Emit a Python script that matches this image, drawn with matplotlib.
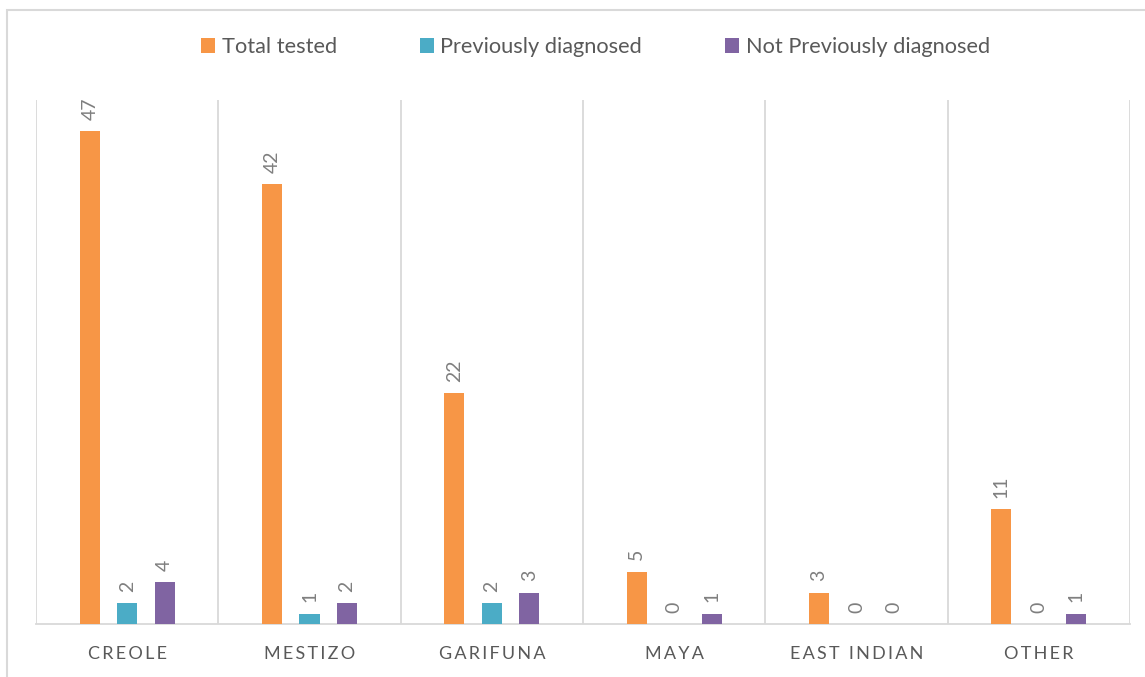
import matplotlib.pyplot as plt
import numpy as np
from matplotlib.patches import Rectangle

plt.rcParams['font.family'] = ['Lato', 'DejaVu Sans']

# dados
categorias = ["CREOLE", "MESTIZO", "GARIFUNA", "MAYA", "EAST INDIAN", "OTHER"]
total_tested = [47, 42, 22, 5, 3, 11]
prev_diag = [2, 1, 2, 0, 0, 0]
not_prev_diag = [4, 2, 3, 1, 0, 1]
series_names = ["Total tested", "Previously diagnosed", "Not Previously diagnosed"]
cores = ["#F79646", "#4BACC6", "#8064A2"]
cinza = "#595959"

fig = plt.figure(figsize=(11.45, 6.77), dpi=100)
ax = fig.add_axes([36/1145, 1 - 624/677, (1130-36)/1145, (624-100)/677])

x = np.arange(len(categorias))
largura = 0.11
passo = 0.205
for i, (vals, nome, cor) in enumerate(zip([total_tested, prev_diag, not_prev_diag], series_names, cores)):
    pos = x + (i - 1) * passo
    ax.bar(pos, vals, width=largura, color=cor, label=nome, zorder=3)
    for p, v in zip(pos, vals):
        ax.annotate(str(v), (p, v), xytext=(0, 8), textcoords='offset points',
                    rotation=90, ha='center', va='bottom', color='#7F7F7F', fontsize=14)

ax.set_xlim(-0.5, len(categorias) - 0.5)
ax.set_ylim(0, 50)
ax.set_yticks([])
for b in np.arange(-0.5, len(categorias), 1):
    ax.axvline(b, color='#D9D9D9', lw=1.3, zorder=1)
for s in ['top', 'left', 'right']:
    ax.spines[s].set_visible(False)
ax.spines['bottom'].set_color('#D9D9D9')
ax.spines['bottom'].set_linewidth(1.3)
ax.set_xticks(x)
ax.set_xticklabels(["\u2009".join(list(c)).replace("\u2009 \u2009", "  ") for c in categorias],
                   fontsize=13, color=cinza)
ax.tick_params(axis='x', length=0, pad=16)

leg = fig.legend(loc='center', bbox_to_anchor=(0.52, 1 - 47/677), ncol=3, frameon=False,
                 fontsize=15.7, handlelength=0.65, handleheight=0.65, handletextpad=0.3,
                 columnspacing=3.8)
for t in leg.get_texts():
    t.set_color(cinza)

# borda externa
fig.patches.append(Rectangle((7/1145, -0.1), 1.2, 1 - 10/677 + 0.1, transform=fig.transFigure,
                             fill=False, edgecolor='#D9D9D9', lw=1.5))

fig.savefig("out.png", dpi=100)
